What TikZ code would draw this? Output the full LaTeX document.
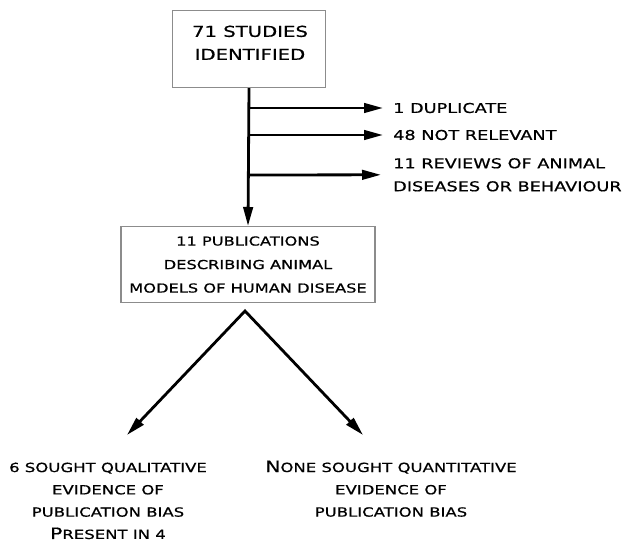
\documentclass[tikz,border=0pt]{standalone}
\usepackage{fontspec}
\usetikzlibrary{arrows.meta}
\newfontfamily\cpfont[FakeStretch=1.31,FakeBold=0.6]{DejaVu Sans}
\tikzset{
  bigtip/.tip={Triangle[length=19pt,width=9.5pt]},
  boxst/.style={draw=black!45, line width=1.1pt, fill=white, inner sep=0pt},
  txt/.style={inner sep=0pt, align=center, font=\cpfont\fontsize{12.6}{22.3}\selectfont},
  brtxt/.style={inner sep=0pt, align=left, font=\cpfont\fontsize{13.5}{23}\selectfont},
  arr/.style={line width=2.8pt, -bigtip},
}
\newcommand{\bigc}[1]{{\fontsize{15.5}{22.3}\selectfont #1}}
\begin{document}
\begin{tikzpicture}[x=1pt,y=-1pt]
\useasboundingbox (0,0) rectangle (629,543);
% top box
\node[boxst, minimum width=153pt, minimum height=77pt, anchor=north] (top) at (249,10) {};
\node[inner sep=0pt, align=center, font=\cpfont\fontsize{15}{23}\selectfont, anchor=north] (toptxt) at (250,25.5) {71 STUDIES\\IDENTIFIED};
% middle box
\node[boxst, inner sep=0pt, align=center, font=\cpfont\fontsize{12.4}{23.5}\selectfont, minimum width=254pt, minimum height=76pt, anchor=north] (mid) at (248,226) {11 PUBLICATIONS\\DESCRIBING ANIMAL\\MODELS OF HUMAN DISEASE};
% branch labels
\node[brtxt, anchor=west] (dup) at (393,108) {1 DUPLICATE};
\node[brtxt, anchor=west] (nrel) at (393,135) {48 NOT RELEVANT};
\node[brtxt, anchor=north west] (rev) at (393,158) {11 REVIEWS OF ANIMAL\\DISEASES OR BEHAVIOUR};
% main vertical arrow
\draw[arr] (top.south) -- (mid.north);
\coordinate (b1) at (249,108);
\coordinate (b2) at (249,135);
\coordinate (b3) at (249,175);
\draw[arr] (b1) -- ([xshift=-10pt]dup.west);
\draw[arr] (b2) -- ([xshift=-10pt]nrel.west);
\draw[arr] (b3) -- ([xshift=-12pt]rev.west);
% V split
\coordinate (apex) at (245,311);
\coordinate (tipL) at (127,435);
\coordinate (tipR) at (363,435);
\draw[line width=2.8pt, line join=miter, bigtip-bigtip] (tipL) -- (apex) -- (tipR);
% bottom texts
\node[txt, anchor=north] (qual) at (108,462.5) {6 SOUGHT QUALITATIVE\\EVIDENCE OF\\PUBLICATION BIAS\\\bigc{P}RESENT IN 4};
\node[txt, anchor=north] (quant) at (391,460.5) {\bigc{N}ONE SOUGHT QUANTITATIVE\\EVIDENCE OF\\PUBLICATION BIAS};
\end{tikzpicture}
\end{document}
